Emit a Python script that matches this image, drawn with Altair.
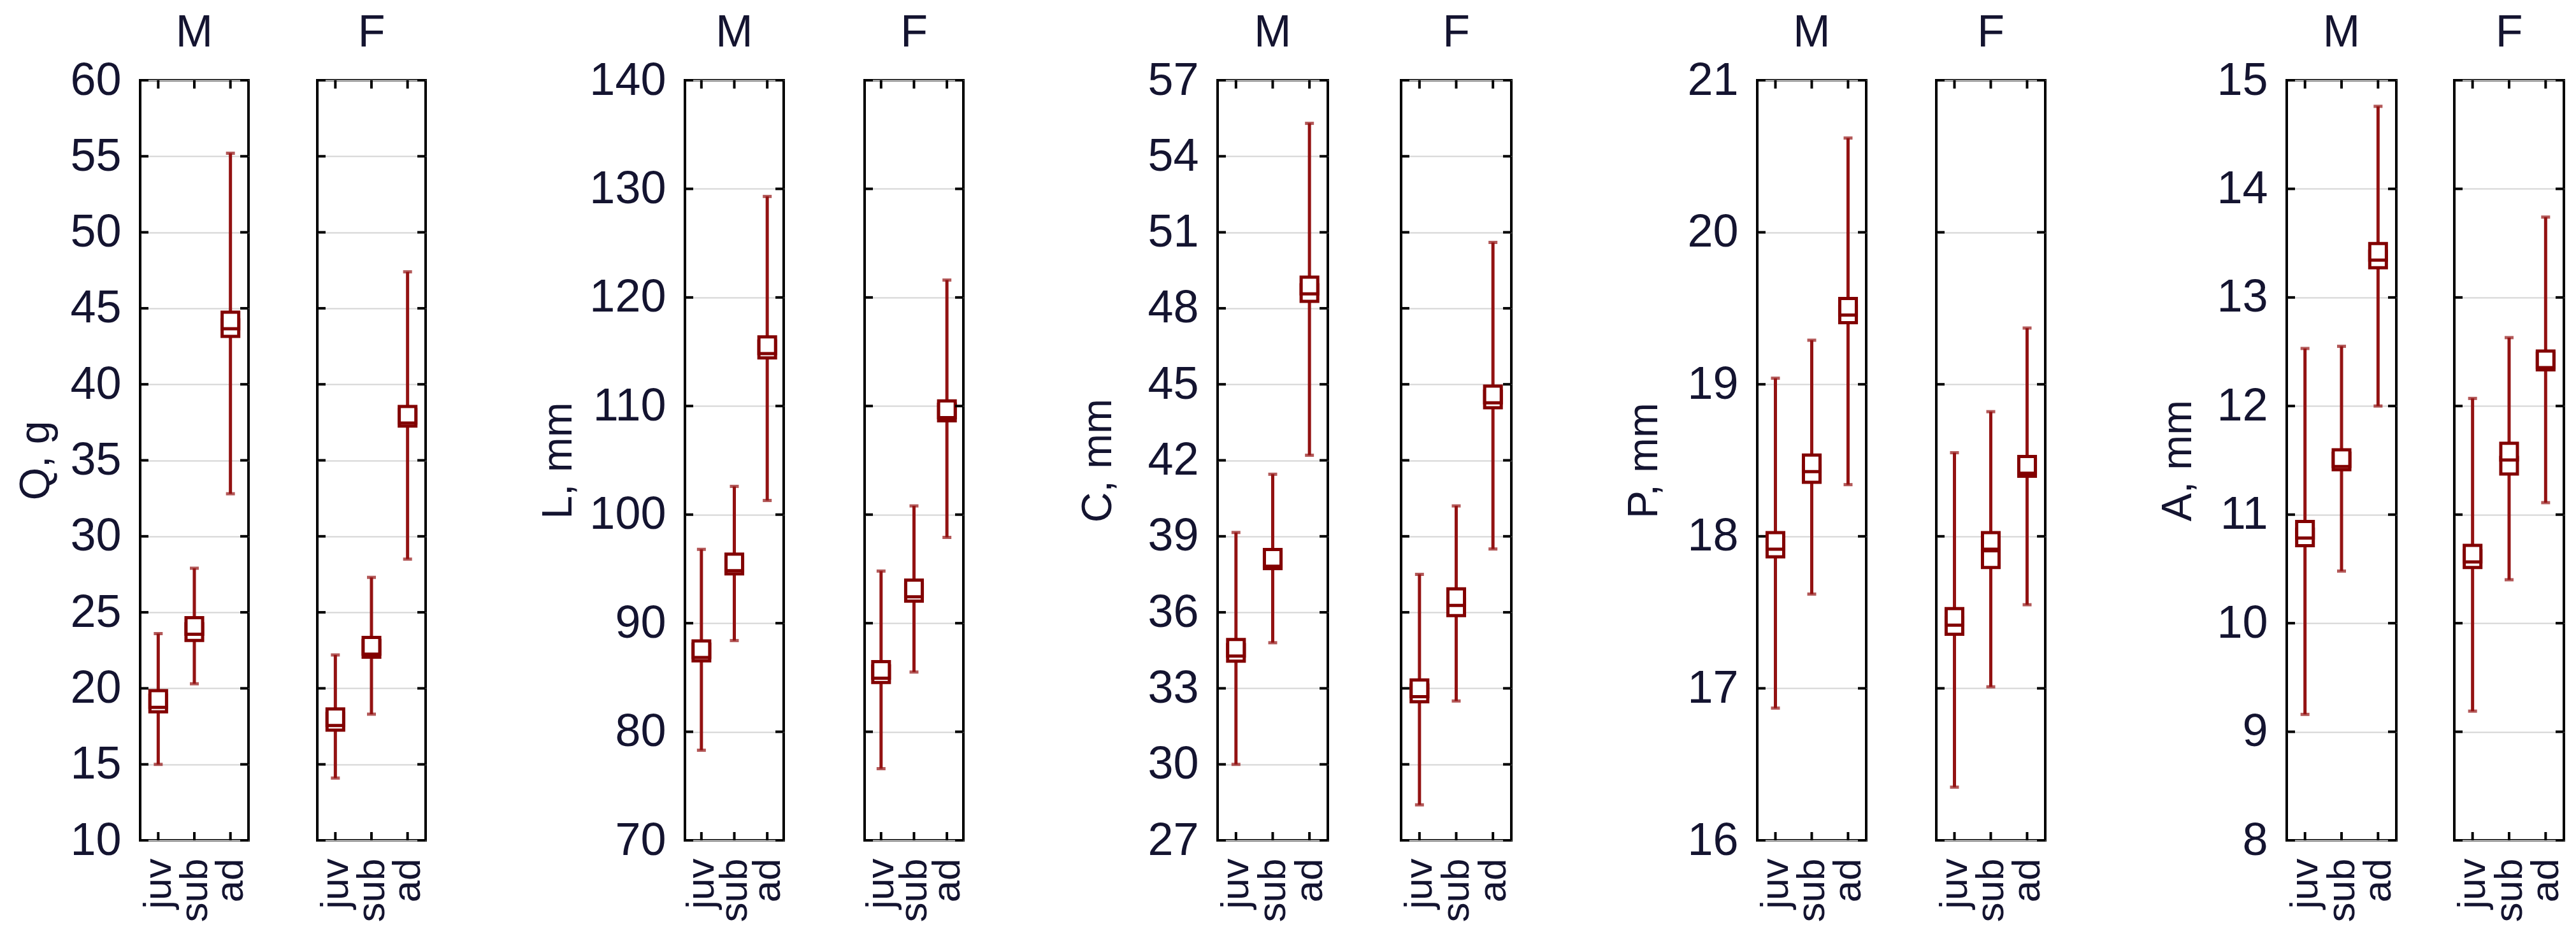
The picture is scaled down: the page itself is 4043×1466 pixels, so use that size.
import altair as alt
import pandas as pd

AGES = ["juv", "sub", "ad"]
SEXES = ["M", "F"]

# ---- tick values of the five y axes ----
Q_TICKS = [10, 15, 20, 25, 30, 35, 40, 45, 50, 55, 60]
L_TICKS = [70, 80, 90, 100, 110, 120, 130, 140]
C_TICKS = [27, 30, 33, 36, 39, 42, 45, 48, 51, 54, 57]
P_TICKS = [16, 17, 18, 19, 20, 21]
A_TICKS = [8, 9, 10, 11, 12, 13, 14, 15]

# ---- Q, g ----
Q_M_LO = [15.0, 20.3, 32.8]
Q_M_HI = [23.6, 27.9, 55.2]
Q_M_MEAN = [19.3, 24.1, 44.2]
Q_M_MED = [19.0, 23.7, 43.7]
Q_F_LO = [14.1, 18.3, 28.5]
Q_F_HI = [22.2, 27.3, 47.4]
Q_F_MEAN = [18.1, 22.8, 38.0]
Q_F_MED = [17.8, 22.6, 37.8]

# ---- L, mm ----
L_M_LO = [78.3, 88.4, 101.3]
L_M_HI = [96.8, 102.6, 129.3]
L_M_MEAN = [87.6, 95.6, 115.6]
L_M_MED = [87.3, 95.3, 115.2]
L_F_LO = [76.6, 85.5, 97.9]
L_F_HI = [94.8, 100.8, 121.6]
L_F_MEAN = [85.7, 93.2, 109.7]
L_F_MED = [85.3, 92.8, 109.4]

# ---- C, mm ----
C_M_LO = [30.0, 34.8, 42.2]
C_M_HI = [39.15, 41.45, 55.3]
C_M_MEAN = [34.6, 38.15, 48.9]
C_M_MED = [34.4, 38.05, 48.6]
C_F_LO = [28.4, 32.5, 38.5]
C_F_HI = [37.5, 40.2, 50.6]
C_F_MEAN = [33.0, 36.6, 44.6]
C_F_MED = [32.8, 36.2, 44.4]

# ---- P, mm ----
P_M_LO = [16.87, 17.62, 18.34]
P_M_HI = [19.04, 19.29, 20.62]
P_M_MEAN = [17.97, 18.48, 19.51]
P_M_MED = [17.92, 18.41, 19.46]
P_F_LO = [16.35, 17.01, 17.55]
P_F_HI = [18.55, 18.82, 19.37]
P_F_MEAN = [17.47, 17.97, 18.47]
P_F_MED = [17.41, 17.85, 18.45]

# ---- A, mm ----
A_M_LO = [9.16, 10.48, 12.0]
A_M_HI = [12.53, 12.55, 14.76]
A_M_MEAN = [10.86, 11.52, 13.42]
A_M_MED = [10.79, 11.49, 13.35]
A_F_LO = [9.19, 10.4, 11.11]
A_F_HI = [12.07, 12.63, 13.74]
A_F_MEAN = [10.64, 11.58, 12.43]
A_F_MED = [10.59, 11.45, 12.41]

FONT = "Liberation Sans"
FONT_N = "Liberation Sans Narrow, Liberation Sans"
TXT = "#141430"
RED_LINE = "#931212"
RED_MARK = "#820000"
GRID = "#d4d4d4"
H = 1193
LFS = 72     # y tick labels
TFS = 70     # M / F headers
YTFS = 66    # y titles
XFS = 62     # x labels

GROUPS = [
    dict(title="Q, g", ticks=Q_TICKS, width=170, inner=98, tx=164,
         data={"M": (Q_M_LO, Q_M_HI, Q_M_MEAN, Q_M_MED), "F": (Q_F_LO, Q_F_HI, Q_F_MEAN, Q_F_MED)}),
    dict(title="L, mm", ticks=L_TICKS, width=155, inner=111, tx=199,
         data={"M": (L_M_LO, L_M_HI, L_M_MEAN, L_M_MED), "F": (L_F_LO, L_F_HI, L_F_MEAN, L_F_MED)}),
    dict(title="C, mm", ticks=C_TICKS, width=173, inner=105, tx=188,
         data={"M": (C_M_LO, C_M_HI, C_M_MEAN, C_M_MED), "F": (C_F_LO, C_F_HI, C_F_MEAN, C_F_MED)}),
    dict(title="P, mm", ticks=P_TICKS, width=171, inner=100, tx=178,
         data={"M": (P_M_LO, P_M_HI, P_M_MEAN, P_M_MED), "F": (P_F_LO, P_F_HI, P_F_MEAN, P_F_MED)}),
    dict(title="A, mm", ticks=A_TICKS, width=172, inner=81, tx=171,
         data={"M": (A_M_LO, A_M_HI, A_M_MEAN, A_M_MED), "F": (A_F_LO, A_F_HI, A_F_MEAN, A_F_MED)}),
]


def panel(g, sex):
    lo, hi, mean, med = g["data"][sex]
    df = pd.DataFrame({"age": AGES, "lo": lo, "hi": hi, "mean": mean, "med": med})
    tdf = pd.DataFrame({"v": g["ticks"]})
    hdf = pd.DataFrame({"sex": [sex]})
    w = g["width"]
    ysc = alt.Scale(domain=[g["ticks"][0], g["ticks"][-1]], nice=False, zero=False)
    xsc = alt.Scale(domain=AGES, type="point", padding=0.5)
    xax = alt.Axis(title=None, labelAngle=270, labelFontSize=XFS, labelFont=FONT,
                   labelColor=TXT, ticks=False, domain=False, labelPadding=28, grid=False)
    if sex == "M":
        yax = alt.Axis(values=g["ticks"], title=g["title"], titleX=-g["tx"], titleY=H / 2,
                       titleAngle=270, titleAlign="center", titleBaseline="middle",
                       titleFont=FONT, titleFontSize=YTFS, titleFontWeight="normal", titleColor=TXT,
                       labelFont=FONT_N, labelFontSize=LFS, labelColor=TXT, labelPadding=30,
                       ticks=False, domain=False, grid=True, gridColor=GRID, gridWidth=2)
    else:
        yax = alt.Axis(values=g["ticks"], title=None, labels=False, ticks=False, domain=False,
                       grid=True, gridColor=GRID, gridWidth=2)
    x = alt.X("age:N", sort=AGES, scale=xsc, axis=xax)

    bars = alt.Chart(df).mark_rule(color=RED_LINE, strokeWidth=5).encode(
        x=x, y=alt.Y("lo:Q", scale=ysc, axis=yax), y2="hi:Q")
    cap_hi = alt.Chart(df).mark_tick(color=RED_LINE, orient="horizontal", size=14, thickness=5).encode(
        x=x, y=alt.Y("hi:Q", scale=ysc, axis=yax))
    cap_lo = alt.Chart(df).mark_tick(color=RED_LINE, orient="horizontal", size=14, thickness=5).encode(
        x=x, y=alt.Y("lo:Q", scale=ysc, axis=yax))
    sq_med = alt.Chart(df).mark_square(filled=True, fill="white", stroke=RED_MARK, strokeWidth=5,
                                       size=680, opacity=1).encode(
        x=x, y=alt.Y("med:Q", scale=ysc, axis=yax))
    sq_mean = alt.Chart(df).mark_square(filled=True, fill="white", stroke=RED_MARK, strokeWidth=5,
                                        size=680, opacity=1).encode(
        x=x, y=alt.Y("mean:Q", scale=ysc, axis=yax))
    tick_l = alt.Chart(tdf).mark_rule(color="black", strokeWidth=4).encode(
        x=alt.value(0), x2=alt.value(13), y=alt.Y("v:Q", scale=ysc, axis=yax))
    tick_r = alt.Chart(tdf).mark_rule(color="black", strokeWidth=4).encode(
        x=alt.value(w - 13), x2=alt.value(w), y=alt.Y("v:Q", scale=ysc, axis=yax))
    tick_t = alt.Chart(df).mark_rule(color="black", strokeWidth=4).encode(
        x=x, y=alt.value(0), y2=alt.value(13))
    tick_b = alt.Chart(df).mark_rule(color="black", strokeWidth=4).encode(
        x=x, y=alt.value(H - 13), y2=alt.value(H))
    header = alt.Chart(hdf).mark_text(font=FONT_N, fontSize=TFS, color=TXT, align="center",
                                      baseline="middle").encode(
        text="sex:N", x=alt.value(w / 2), y=alt.value(-74))

    return alt.layer(bars, cap_hi, cap_lo, sq_med, sq_mean, tick_l, tick_r, tick_t, tick_b,
                     header).properties(width=w, height=H)


groups = [alt.hconcat(panel(g, "M"), panel(g, "F"), spacing=g["inner"]) for g in GROUPS]

chart = alt.hconcat(*groups, spacing=168).properties(
    padding={"left": 13, "top": 7, "right": 0, "bottom": 0},
    background="white",
).configure_view(stroke="black", strokeWidth=4)

chart.save("out.html", embed_options={"renderer": "svg", "actions": False})
